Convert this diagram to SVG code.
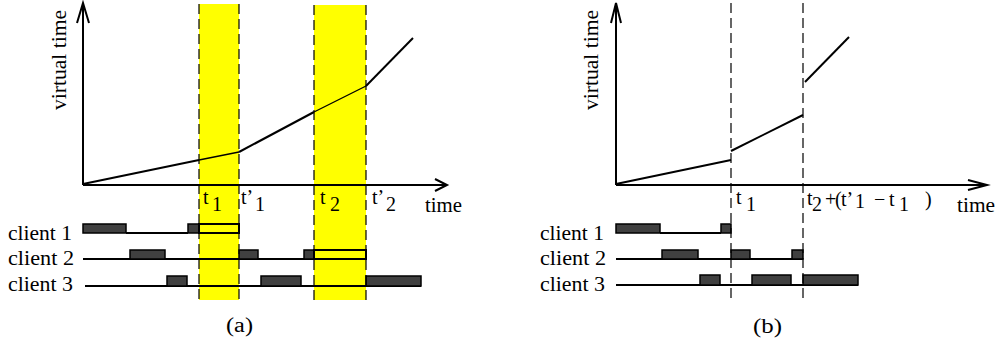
<svg xmlns="http://www.w3.org/2000/svg" width="1000" height="345" viewBox="0 0 1000 345">
<style>
text{font-family:"Liberation Serif","Times New Roman",serif;font-size:20px;fill:#000}
.ax{fill:none;stroke:#000;stroke-width:2}
.cv{fill:none;stroke:#000;stroke-width:2;stroke-linejoin:miter}
.thin{fill:none;stroke:#000;stroke-width:1.3}
.dash{stroke:#000;stroke-width:1.2;stroke-dasharray:10 5;fill:none}
.band{fill:#ffff00}
.line{stroke:#000;stroke-width:2;fill:none}
.blk{fill:#404040;stroke:#000;stroke-width:1.5}
.box{fill:#ffff00;stroke:#000;stroke-width:2}
</style>
<rect width="1000" height="345" fill="#fff"/>

<g id="panel-a">
  <g id="bands-a">
    <rect class="band" x="199" y="4" width="40" height="296"/>
    <rect class="band" x="314" y="5" width="52" height="295"/>
  </g>
  <g id="axes-a">
    <polyline class="ax" points="83,185 83,3"/>
    <polyline class="ax" points="77,23 83,3 89,23"/>
    <polyline class="ax" points="83,185 447,185"/>
    <polyline class="ax" points="435,179 447,185 435,191"/>
    <text transform="translate(66,60) rotate(-90)" text-anchor="middle" textLength="100" lengthAdjust="spacingAndGlyphs">virtual time</text>
    <text x="425" y="212" textLength="37" lengthAdjust="spacingAndGlyphs">time</text>
  </g>
  <g id="curve-a">
    <polyline class="cv" points="83,184 199,160"/>
    <polyline class="thin" points="199,160 239,152"/>
    <polyline class="cv" points="239,152 314,112"/>
    <polyline class="thin" points="314,112 366,86"/>
    <polyline class="cv" points="366,86 413,38"/>
  </g>
  <g id="labels-a">
    <text x="203" y="204">t</text><text x="212" y="211">1</text>
    <text x="241" y="204">t’</text><text x="255" y="211">1</text>
    <text x="320" y="204">t</text><text x="330" y="211">2</text>
    <text x="372" y="204">t’</text><text x="386" y="211">2</text>
  </g>
  <g id="clients-a">
    <text x="8" y="240" textLength="64" lengthAdjust="spacingAndGlyphs">client 1</text>
    <text x="8" y="265" textLength="66" lengthAdjust="spacingAndGlyphs">client 2</text>
    <text x="8" y="291" textLength="65" lengthAdjust="spacingAndGlyphs">client 3</text>
    <line class="line" x1="126" y1="233" x2="188" y2="233"/>
    <rect class="blk" x="83" y="224" width="43" height="9"/>
    <rect class="blk" x="188" y="224" width="11" height="9"/>
    <rect class="box" x="199" y="224" width="40" height="9"/>
    <line class="line" x1="83" y1="259" x2="366" y2="259"/>
    <rect class="blk" x="130" y="250" width="35" height="9"/>
    <rect class="blk" x="239" y="250" width="19" height="9"/>
    <rect class="blk" x="304" y="250" width="10" height="9"/>
    <rect class="box" x="314" y="250" width="52" height="9"/>
    <line class="line" x1="85" y1="286" x2="421" y2="286"/>
    <rect class="blk" x="167" y="276" width="20" height="10"/>
    <rect class="blk" x="261" y="276" width="40" height="10"/>
    <rect class="blk" x="366" y="276" width="55" height="10"/>
  </g>
  <g id="dashes-a">
    <line class="dash" x1="199" y1="4" x2="199" y2="300"/>
    <line class="dash" x1="239" y1="4" x2="239" y2="300"/>
    <line class="dash" x1="314" y1="5" x2="314" y2="300"/>
    <line class="dash" x1="366" y1="5" x2="366" y2="300"/>
  </g>
  <text x="226" y="332" textLength="27" lengthAdjust="spacingAndGlyphs">(a)</text>
</g>

<g id="panel-b">
  <g id="axes-b">
    <polyline class="ax" points="616,185 616,3"/>
    <polyline class="ax" points="611,23 616,3 621,23"/>
    <polyline class="ax" points="616,185 987,185"/>
    <polyline class="ax" points="968,180 987,185 968,190"/>
    <text transform="translate(598,60) rotate(-90)" text-anchor="middle" textLength="100" lengthAdjust="spacingAndGlyphs">virtual time</text>
    <text x="957" y="212" textLength="38" lengthAdjust="spacingAndGlyphs">time</text>
  </g>
  <g id="curve-b">
    <polyline class="cv" points="616,184 731,160"/>
    <polyline class="cv" points="731,151 803,115"/>
    <polyline class="cv" points="805,82 849,37"/>
  </g>
  <g id="labels-b">
    <text x="736" y="204">t</text><text x="746" y="211">1</text>
    <text x="807" y="205">t</text><text x="812" y="211">2</text>
    <text x="825" y="206">+</text>
    <text x="835" y="206">(</text><text x="841" y="206">t’</text><text x="855" y="208">1</text>
    <text x="874" y="206">−</text>
    <text x="889" y="206">t</text><text x="899" y="211">1</text>
    <text x="925" y="206">)</text>
  </g>
  <g id="clients-b">
    <text x="540" y="240" textLength="64" lengthAdjust="spacingAndGlyphs">client 1</text>
    <text x="540" y="265" textLength="66" lengthAdjust="spacingAndGlyphs">client 2</text>
    <text x="540" y="291" textLength="65" lengthAdjust="spacingAndGlyphs">client 3</text>
    <line class="line" x1="660" y1="233" x2="721" y2="233"/>
    <rect class="blk" x="616" y="224" width="44" height="9"/>
    <rect class="blk" x="721" y="224" width="10" height="9"/>
    <line class="line" x1="616" y1="259" x2="803" y2="259"/>
    <rect class="blk" x="662" y="250" width="36" height="9"/>
    <rect class="blk" x="731" y="250" width="19" height="9"/>
    <rect class="blk" x="792" y="250" width="11" height="9"/>
    <line class="line" x1="616" y1="285" x2="858" y2="285"/>
    <rect class="blk" x="700" y="275" width="20" height="10"/>
    <rect class="blk" x="752" y="275" width="39" height="10"/>
    <rect class="blk" x="803" y="275" width="55" height="10"/>
  </g>
  <g id="dashes-b">
    <line class="dash" x1="731" y1="3" x2="731" y2="300"/>
    <line class="dash" x1="803" y1="3" x2="803" y2="300"/>
  </g>
  <text x="753" y="333" textLength="29" lengthAdjust="spacingAndGlyphs">(b)</text>
</g>
</svg>
